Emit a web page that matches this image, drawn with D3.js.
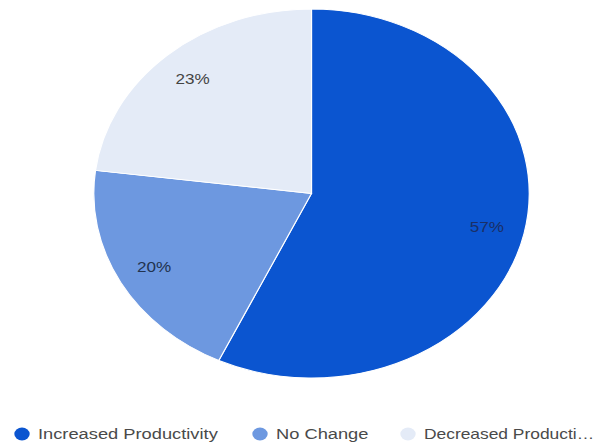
<!DOCTYPE html>
<html>
<head>
<meta charset="utf-8">
<script src="https://cdn.jsdelivr.net/npm/d3@7"></script>
<style>
  html, body { margin: 0; padding: 0; background: #fff; }
  svg { display: block; }
  text { font-family: "Liberation Sans", Arial, sans-serif; }
</style>
</head>
<body>
<svg id="chart" width="601" height="445"></svg>
<script>
// Survey answers and their shares (percent)
const categories = ["Increased Productivity", "No Change", "Decreased Productivity"];
const shares = [57, 20, 23];
const legendLabels = ["Increased Productivity", "No Change", "Decreased Producti\u2026"];
const colors = ["#0b55d0", "#6d98e0", "#e4ebf7"];
const labelColors = ["#1a2f66", "#22334f", "#444444"];

const W = 601, H = 445;
const sx = 1.18;            // horizontal stretch of the whole drawing
const cx = 311.5 / sx, cy = 193.5, r = 184.5;

const svg = d3.select("#chart");
const g = svg.append("g").attr("transform", `scale(${sx},1)`);

const pie = d3.pie().sort(null).value(d => d.v);
const data = pie(categories.map((c, i) => ({ c, v: shares[i], i })));
const arc = d3.arc().innerRadius(0).outerRadius(r);
const labelArc = d3.arc().innerRadius(r * 0.825).outerRadius(r * 0.825);

const pg = g.append("g").attr("transform", `translate(${cx},${cy})`);
pg.selectAll("path.slice")
  .data(data)
  .join("path")
  .attr("class", "slice")
  .attr("d", arc)
  .attr("fill", d => colors[d.data.i])
  .attr("stroke", "#ffffff")
  .attr("stroke-width", 1);

pg.selectAll("text.pct")
  .data(data)
  .join("text")
  .attr("class", "pct")
  .attr("transform", d => `translate(${labelArc.centroid(d)})`)
  .attr("text-anchor", "middle")
  .attr("dominant-baseline", "central")
  .attr("font-size", 14.5)
  .attr("fill", d => labelColors[d.data.i])
  .text(d => d.data.v + "%");

// Legend along the bottom
const legendX = [22, 260, 408];
const legY = 434;
const rightLimit = 594 / sx;
const lg = g.append("g");
legendLabels.forEach((lab, i) => {
  lg.append("circle")
    .attr("cx", legendX[i] / sx)
    .attr("cy", legY)
    .attr("r", 6.5)
    .attr("fill", colors[i]);
  const x0 = (legendX[i] + 16) / sx;
  const fs = 15.5;
  const t = lg.append("text")
    .attr("x", x0)
    .attr("y", legY)
    .attr("dominant-baseline", "central")
    .attr("font-size", fs)
    .attr("fill", "#4a4a4a")
    .text(lab);
  // shrink the last entry so it stays inside the right edge
  const len = t.node().getComputedTextLength();
  if (x0 + len > rightLimit) {
    t.attr("font-size", fs * (rightLimit - x0) / len);
  }
});
</script>
</body>
</html>
